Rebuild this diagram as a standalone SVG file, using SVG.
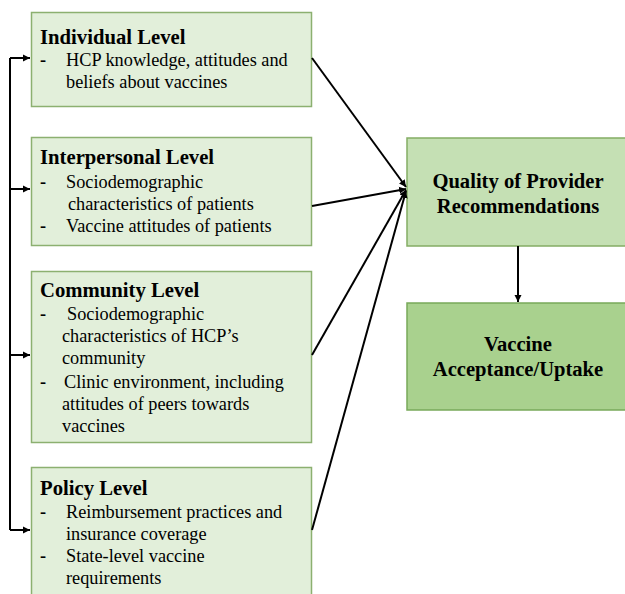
<svg xmlns="http://www.w3.org/2000/svg" width="625" height="594" viewBox="0 0 625 594">
<defs>
<style>
.lv{fill:#e2efda;stroke:#8cb070;stroke-width:1.5}
.q{fill:#c5e0b4;stroke:#84ad64;stroke-width:1.5}
.v{fill:#a9d18e;stroke:#78a95a;stroke-width:1.5}
.t{font-family:"Liberation Serif",serif;font-weight:bold;font-size:20.7px;fill:#000}
.b{font-family:"Liberation Serif",serif;font-size:18.3px;fill:#000}
.d{font-family:"Liberation Serif",serif;font-weight:bold;font-size:18.3px;fill:#000}
.c{font-family:"Liberation Serif",serif;font-weight:bold;font-size:20.6px;fill:#000;text-anchor:middle}
.ln{fill:none;stroke:#000;stroke-width:2}
</style>
<marker id="ah" markerWidth="8" markerHeight="8" refX="7" refY="4" orient="auto" markerUnits="userSpaceOnUse">
<path d="M0,0.5 L7,4 L0,7.5 z" fill="#000"/>
</marker>
</defs>
<g id="individual">
<rect class="lv" x="31.5" y="12.5" width="280" height="94"/>
<text class="t" x="40" y="44">Individual Level</text>
<text class="d" x="40" y="66">-</text>
<text class="b" x="66" y="66">HCP knowledge, attitudes and</text>
<text class="b" x="66" y="88">beliefs about vaccines</text>
</g>
<g id="interpersonal">
<rect class="lv" x="31.5" y="137.5" width="280" height="108"/>
<text class="t" x="40" y="164">Interpersonal Level</text>
<text class="d" x="40" y="188">-</text>
<text class="b" x="66" y="188">Sociodemographic</text>
<text class="b" x="68" y="210">characteristics of patients</text>
<text class="d" x="40" y="232">-</text>
<text class="b" x="66" y="232">Vaccine attitudes of patients</text>
</g>
<g id="community">
<rect class="lv" x="31.5" y="271.5" width="280" height="171"/>
<text class="t" x="40" y="297">Community Level</text>
<text class="d" x="40" y="320">-</text>
<text class="b" x="67" y="320">Sociodemographic</text>
<text class="b" x="62" y="342">characteristics of HCP’s</text>
<text class="b" x="62" y="364">community</text>
<text class="d" x="40" y="388">-</text>
<text class="b" x="64" y="388">Clinic environment, including</text>
<text class="b" x="62" y="410">attitudes of peers towards</text>
<text class="b" x="62" y="432">vaccines</text>
</g>
<g id="policy">
<rect class="lv" x="31.5" y="467.5" width="280" height="140"/>
<text class="t" x="40" y="495">Policy Level</text>
<text class="d" x="40" y="518">-</text>
<text class="b" x="66" y="518">Reimbursement practices and</text>
<text class="b" x="66" y="540">insurance coverage</text>
<text class="d" x="40" y="562">-</text>
<text class="b" x="66" y="562">State-level vaccine</text>
<text class="b" x="66" y="584">requirements</text>
</g>
<g id="quality">
<rect class="q" x="407" y="138" width="222" height="108"/>
<text class="c" x="518" y="188">Quality of Provider</text>
<text class="c" x="518" y="213">Recommendations</text>
</g>
<g id="uptake">
<rect class="v" x="407" y="303" width="222" height="107"/>
<text class="c" x="518" y="351">Vaccine</text>
<text class="c" x="518" y="376">Acceptance/Uptake</text>
</g>
<g id="connectors">
<path class="ln" d="M10,58 V530"/>
<path class="ln" d="M10,58 H30" marker-end="url(#ah)"/>
<path class="ln" d="M10,189 H30" marker-end="url(#ah)"/>
<path class="ln" d="M10,355 H30" marker-end="url(#ah)"/>
<path class="ln" d="M10,530 H30" marker-end="url(#ah)"/>
<path class="ln" d="M312,58 L406,187" marker-end="url(#ah)"/>
<path class="ln" d="M312,206 L406,189" marker-end="url(#ah)"/>
<path class="ln" d="M312,355 L406,190" marker-end="url(#ah)"/>
<path class="ln" d="M312,530 L406,191" marker-end="url(#ah)"/>
<path class="ln" d="M518,246 V302" marker-end="url(#ah)"/>
</g>
</svg>
